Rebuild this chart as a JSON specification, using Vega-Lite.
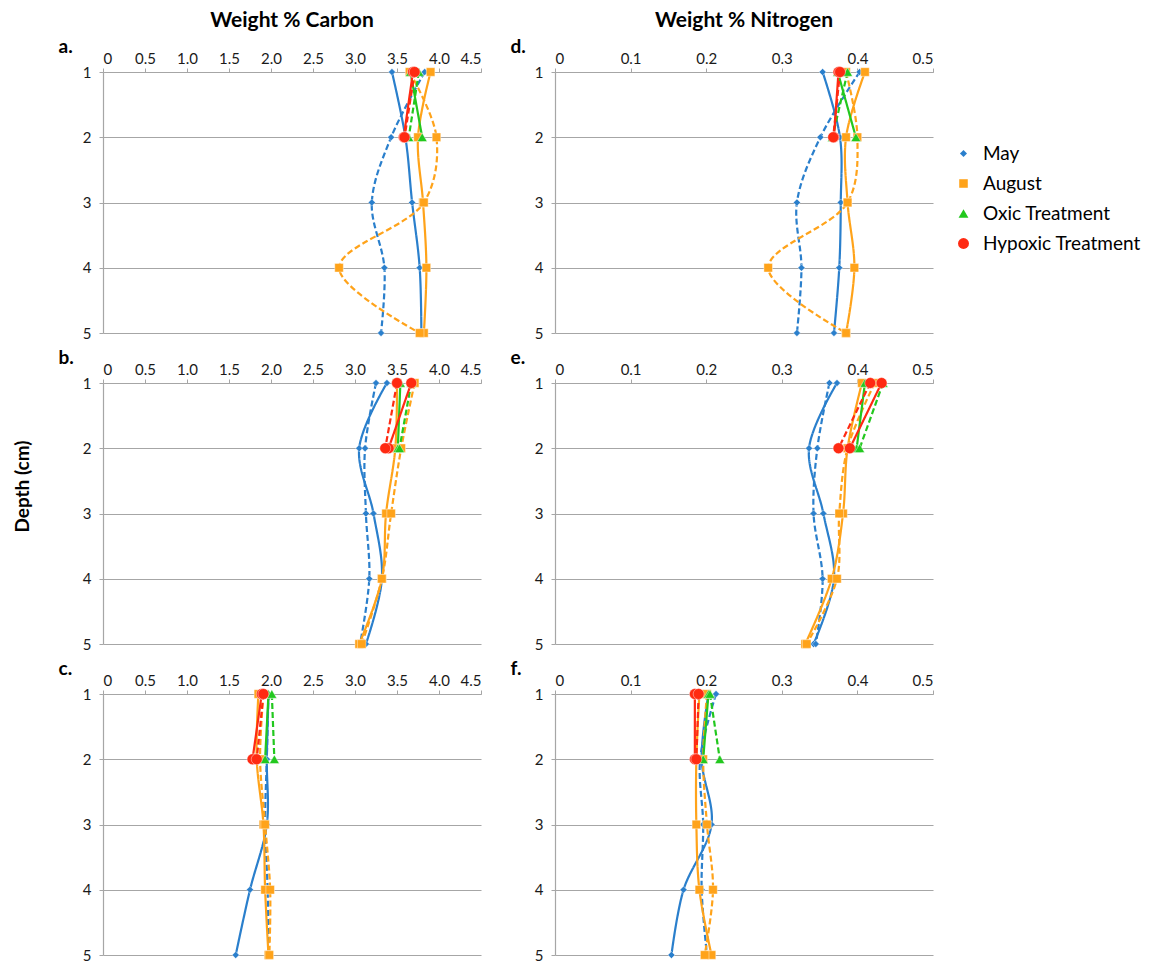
{
  "$schema": "https://vega.github.io/schema/vega-lite/v6.json",
  "padding": {"left": 14, "top": 10, "right": 10, "bottom": 2},
  "background": "white",
  "bounds": "flush",
  "columns": 2,
  "spacing": {"row": 50, "column": 74},
  "title": {"text": "Depth (cm)", "orient": "left", "anchor": "middle", "frame": "bounds", "font": "Lato", "fontSize": 19, "fontWeight": "bold", "color": "#000", "offset": 25},
  "data": {"values": [
    {"p":"a","s":"May","r":"1","d":1,"v":3.44},{"p":"a","s":"May","r":"1","d":2,"v":3.60},{"p":"a","s":"May","r":"1","d":3,"v":3.68},{"p":"a","s":"May","r":"1","d":4,"v":3.77},{"p":"a","s":"May","r":"1","d":5,"v":3.79},
    {"p":"a","s":"May","r":"2","d":1,"v":3.83},{"p":"a","s":"May","r":"2","d":2,"v":3.43},{"p":"a","s":"May","r":"2","d":3,"v":3.20},{"p":"a","s":"May","r":"2","d":4,"v":3.35},{"p":"a","s":"May","r":"2","d":5,"v":3.31},
    {"p":"a","s":"August","r":"1","d":1,"v":3.90},{"p":"a","s":"August","r":"1","d":2,"v":3.75},{"p":"a","s":"August","r":"1","d":3,"v":3.81},{"p":"a","s":"August","r":"1","d":4,"v":3.85},{"p":"a","s":"August","r":"1","d":5,"v":3.82},
    {"p":"a","s":"August","r":"2","d":1,"v":3.65},{"p":"a","s":"August","r":"2","d":2,"v":3.97},{"p":"a","s":"August","r":"2","d":3,"v":3.82},{"p":"a","s":"August","r":"2","d":4,"v":2.81},{"p":"a","s":"August","r":"2","d":5,"v":3.77},
    {"p":"a","s":"Oxic Treatment","r":"1","d":1,"v":3.66},{"p":"a","s":"Oxic Treatment","r":"1","d":2,"v":3.80},
    {"p":"a","s":"Oxic Treatment","r":"2","d":1,"v":3.76},{"p":"a","s":"Oxic Treatment","r":"2","d":2,"v":3.64},
    {"p":"a","s":"Hypoxic Treatment","r":"1","d":1,"v":3.69},{"p":"a","s":"Hypoxic Treatment","r":"1","d":2,"v":3.58},
    {"p":"a","s":"Hypoxic Treatment","r":"2","d":1,"v":3.71},{"p":"a","s":"Hypoxic Treatment","r":"2","d":2,"v":3.59},

    {"p":"d","s":"May","r":"1","d":1,"v":0.354},{"p":"d","s":"May","r":"1","d":2,"v":0.377},{"p":"d","s":"May","r":"1","d":3,"v":0.378},{"p":"d","s":"May","r":"1","d":4,"v":0.376},{"p":"d","s":"May","r":"1","d":5,"v":0.369},
    {"p":"d","s":"May","r":"2","d":1,"v":0.403},{"p":"d","s":"May","r":"2","d":2,"v":0.351},{"p":"d","s":"May","r":"2","d":3,"v":0.320},{"p":"d","s":"May","r":"2","d":4,"v":0.326},{"p":"d","s":"May","r":"2","d":5,"v":0.320},
    {"p":"d","s":"August","r":"1","d":1,"v":0.410},{"p":"d","s":"August","r":"1","d":2,"v":0.385},{"p":"d","s":"August","r":"1","d":3,"v":0.387},{"p":"d","s":"August","r":"1","d":4,"v":0.396},{"p":"d","s":"August","r":"1","d":5,"v":0.385},
    {"p":"d","s":"August","r":"2","d":1,"v":0.385},{"p":"d","s":"August","r":"2","d":2,"v":0.400},{"p":"d","s":"August","r":"2","d":3,"v":0.387},{"p":"d","s":"August","r":"2","d":4,"v":0.282},{"p":"d","s":"August","r":"2","d":5,"v":0.385},
    {"p":"d","s":"Oxic Treatment","r":"1","d":1,"v":0.374},{"p":"d","s":"Oxic Treatment","r":"1","d":2,"v":0.398},
    {"p":"d","s":"Oxic Treatment","r":"2","d":1,"v":0.387},{"p":"d","s":"Oxic Treatment","r":"2","d":2,"v":0.367},
    {"p":"d","s":"Hypoxic Treatment","r":"1","d":1,"v":0.375},{"p":"d","s":"Hypoxic Treatment","r":"1","d":2,"v":0.369},
    {"p":"d","s":"Hypoxic Treatment","r":"2","d":1,"v":0.377},{"p":"d","s":"Hypoxic Treatment","r":"2","d":2,"v":0.368},

    {"p":"b","s":"May","r":"1","d":1,"v":3.38},{"p":"b","s":"May","r":"1","d":2,"v":3.05},{"p":"b","s":"May","r":"1","d":3,"v":3.22},{"p":"b","s":"May","r":"1","d":4,"v":3.32},{"p":"b","s":"May","r":"1","d":5,"v":3.13},
    {"p":"b","s":"May","r":"2","d":1,"v":3.25},{"p":"b","s":"May","r":"2","d":2,"v":3.12},{"p":"b","s":"May","r":"2","d":3,"v":3.13},{"p":"b","s":"May","r":"2","d":4,"v":3.17},{"p":"b","s":"May","r":"2","d":5,"v":3.06},
    {"p":"b","s":"August","r":"1","d":1,"v":3.50},{"p":"b","s":"August","r":"1","d":2,"v":3.48},{"p":"b","s":"August","r":"1","d":3,"v":3.37},{"p":"b","s":"August","r":"1","d":4,"v":3.32},{"p":"b","s":"August","r":"1","d":5,"v":3.05},
    {"p":"b","s":"August","r":"2","d":1,"v":3.71},{"p":"b","s":"August","r":"2","d":2,"v":3.55},{"p":"b","s":"August","r":"2","d":3,"v":3.43},{"p":"b","s":"August","r":"2","d":4,"v":3.32},{"p":"b","s":"August","r":"2","d":5,"v":3.08},
    {"p":"b","s":"Oxic Treatment","r":"1","d":1,"v":3.54},{"p":"b","s":"Oxic Treatment","r":"1","d":2,"v":3.51},
    {"p":"b","s":"Oxic Treatment","r":"2","d":1,"v":3.67},{"p":"b","s":"Oxic Treatment","r":"2","d":2,"v":3.53},
    {"p":"b","s":"Hypoxic Treatment","r":"1","d":1,"v":3.67},{"p":"b","s":"Hypoxic Treatment","r":"1","d":2,"v":3.40},
    {"p":"b","s":"Hypoxic Treatment","r":"2","d":1,"v":3.50},{"p":"b","s":"Hypoxic Treatment","r":"2","d":2,"v":3.36},

    {"p":"e","s":"May","r":"1","d":1,"v":0.373},{"p":"e","s":"May","r":"1","d":2,"v":0.336},{"p":"e","s":"May","r":"1","d":3,"v":0.355},{"p":"e","s":"May","r":"1","d":4,"v":0.369},{"p":"e","s":"May","r":"1","d":5,"v":0.342},
    {"p":"e","s":"May","r":"2","d":1,"v":0.363},{"p":"e","s":"May","r":"2","d":2,"v":0.347},{"p":"e","s":"May","r":"2","d":3,"v":0.342},{"p":"e","s":"May","r":"2","d":4,"v":0.354},{"p":"e","s":"May","r":"2","d":5,"v":0.345},
    {"p":"e","s":"August","r":"1","d":1,"v":0.406},{"p":"e","s":"August","r":"1","d":2,"v":0.387},{"p":"e","s":"August","r":"1","d":3,"v":0.381},{"p":"e","s":"August","r":"1","d":4,"v":0.366},{"p":"e","s":"August","r":"1","d":5,"v":0.331},
    {"p":"e","s":"August","r":"2","d":1,"v":0.423},{"p":"e","s":"August","r":"2","d":2,"v":0.387},{"p":"e","s":"August","r":"2","d":3,"v":0.376},{"p":"e","s":"August","r":"2","d":4,"v":0.373},{"p":"e","s":"August","r":"2","d":5,"v":0.333},
    {"p":"e","s":"Oxic Treatment","r":"1","d":1,"v":0.410},{"p":"e","s":"Oxic Treatment","r":"1","d":2,"v":0.399},
    {"p":"e","s":"Oxic Treatment","r":"2","d":1,"v":0.434},{"p":"e","s":"Oxic Treatment","r":"2","d":2,"v":0.403},
    {"p":"e","s":"Hypoxic Treatment","r":"1","d":1,"v":0.432},{"p":"e","s":"Hypoxic Treatment","r":"1","d":2,"v":0.390},
    {"p":"e","s":"Hypoxic Treatment","r":"2","d":1,"v":0.417},{"p":"e","s":"Hypoxic Treatment","r":"2","d":2,"v":0.375},

    {"p":"c","s":"May","r":"1","d":1,"v":1.97},{"p":"c","s":"May","r":"1","d":2,"v":1.95},{"p":"c","s":"May","r":"1","d":3,"v":1.95},{"p":"c","s":"May","r":"1","d":4,"v":1.75},{"p":"c","s":"May","r":"1","d":5,"v":1.58},
    {"p":"c","s":"May","r":"2","d":1,"v":1.97},{"p":"c","s":"May","r":"2","d":2,"v":1.95},{"p":"c","s":"May","r":"2","d":3,"v":1.93},{"p":"c","s":"May","r":"2","d":4,"v":1.96},{"p":"c","s":"May","r":"2","d":5,"v":1.97},
    {"p":"c","s":"August","r":"1","d":1,"v":1.85},{"p":"c","s":"August","r":"1","d":2,"v":1.83},{"p":"c","s":"August","r":"1","d":3,"v":1.91},{"p":"c","s":"August","r":"1","d":4,"v":1.93},{"p":"c","s":"August","r":"1","d":5,"v":1.97},
    {"p":"c","s":"August","r":"2","d":1,"v":1.91},{"p":"c","s":"August","r":"2","d":2,"v":1.87},{"p":"c","s":"August","r":"2","d":3,"v":1.93},{"p":"c","s":"August","r":"2","d":4,"v":1.99},{"p":"c","s":"August","r":"2","d":5,"v":1.98},
    {"p":"c","s":"Oxic Treatment","r":"1","d":1,"v":1.97},{"p":"c","s":"Oxic Treatment","r":"1","d":2,"v":1.93},
    {"p":"c","s":"Oxic Treatment","r":"2","d":1,"v":2.01},{"p":"c","s":"Oxic Treatment","r":"2","d":2,"v":2.04},
    {"p":"c","s":"Hypoxic Treatment","r":"1","d":1,"v":1.89},{"p":"c","s":"Hypoxic Treatment","r":"1","d":2,"v":1.78},
    {"p":"c","s":"Hypoxic Treatment","r":"2","d":1,"v":1.91},{"p":"c","s":"Hypoxic Treatment","r":"2","d":2,"v":1.83},

    {"p":"f","s":"May","r":"1","d":1,"v":0.203},{"p":"f","s":"May","r":"1","d":2,"v":0.194},{"p":"f","s":"May","r":"1","d":3,"v":0.207},{"p":"f","s":"May","r":"1","d":4,"v":0.170},{"p":"f","s":"May","r":"1","d":5,"v":0.154},
    {"p":"f","s":"May","r":"2","d":1,"v":0.213},{"p":"f","s":"May","r":"2","d":2,"v":0.192},{"p":"f","s":"May","r":"2","d":3,"v":0.196},{"p":"f","s":"May","r":"2","d":4,"v":0.194},{"p":"f","s":"May","r":"2","d":5,"v":0.201},
    {"p":"f","s":"August","r":"1","d":1,"v":0.191},{"p":"f","s":"August","r":"1","d":2,"v":0.187},{"p":"f","s":"August","r":"1","d":3,"v":0.187},{"p":"f","s":"August","r":"1","d":4,"v":0.191},{"p":"f","s":"August","r":"1","d":5,"v":0.207},
    {"p":"f","s":"August","r":"2","d":1,"v":0.201},{"p":"f","s":"August","r":"2","d":2,"v":0.196},{"p":"f","s":"August","r":"2","d":3,"v":0.201},{"p":"f","s":"August","r":"2","d":4,"v":0.209},{"p":"f","s":"August","r":"2","d":5,"v":0.198},
    {"p":"f","s":"Oxic Treatment","r":"1","d":1,"v":0.203},{"p":"f","s":"Oxic Treatment","r":"1","d":2,"v":0.196},
    {"p":"f","s":"Oxic Treatment","r":"2","d":1,"v":0.205},{"p":"f","s":"Oxic Treatment","r":"2","d":2,"v":0.218},
    {"p":"f","s":"Hypoxic Treatment","r":"1","d":1,"v":0.185},{"p":"f","s":"Hypoxic Treatment","r":"1","d":2,"v":0.185},
    {"p":"f","s":"Hypoxic Treatment","r":"2","d":1,"v":0.190},{"p":"f","s":"Hypoxic Treatment","r":"2","d":2,"v":0.187}
  ]},
  "concat": [
      {"width": 378, "height": 261,
       "title": {"text": "Weight % Carbon"},
       "transform": [{"filter": "datum.p === 'a'"}],
       "encoding": {
         "x": {"field": "v", "type": "quantitative", "scale": {"domain": [0, 4.5], "nice": false, "zero": false}, "axis": {"values": [0,0.5,1,1.5,2,2.5,3,3.5,4,4.5]}},
         "y": {"field": "d", "type": "quantitative", "scale": {"domain": [1, 5], "reverse": true, "nice": false, "zero": false}, "axis": {"title": "a.", "values": [1,2,3,4,5]}},
         "color": {"field": "s", "type": "nominal", "title": null, "legend": {"orient": "none", "legendX": 851, "legendY": 72, "encode": {"symbols": {"update": {"size": {"value": 190}}}}}, "scale": {"domain": ["May","August","Oxic Treatment","Hypoxic Treatment"], "range": ["#2a7fcc","#ffa31a","#22c81e","#ff2a12"]}}
       },
       "layer": [
         {"mark": {"type": "line", "interpolate": "catmull-rom", "strokeWidth": 2.2},
          "encoding": {"detail": {"field": "r"}, "order": {"field": "d"}, "strokeDash": {"field": "r", "type": "nominal", "scale": {"domain": ["1","2"], "range": [[1,0],[6,3]]}, "legend": null}}},
         {"mark": {"type": "point", "filled": true, "opacity": 1, "stroke": "#ffffff", "strokeWidth": 0.6, "strokeOpacity": 0.7},
          "encoding": {"shape": {"field": "s", "type": "nominal", "title": null, "legend": {"orient": "none", "legendX": 851, "legendY": 72, "encode": {"symbols": {"update": {"size": {"value": 190}}}}}, "scale": {"domain": ["May","August","Oxic Treatment","Hypoxic Treatment"], "range": ["diamond","square","triangle-up","circle"]}},
                       "size": {"field": "s", "type": "nominal", "legend": null, "scale": {"domain": ["May","August","Oxic Treatment","Hypoxic Treatment"], "range": [50,120,60,85]}}}}
       ]},
      {"width": 378, "height": 261,
       "title": {"text": "Weight % Nitrogen"},
       "transform": [{"filter": "datum.p === 'd'"}],
       "encoding": {
         "x": {"field": "v", "type": "quantitative", "scale": {"domain": [0, 0.5], "nice": false, "zero": false}, "axis": {"values": [0,0.1,0.2,0.3,0.4,0.5]}},
         "y": {"field": "d", "type": "quantitative", "scale": {"domain": [1, 5], "reverse": true, "nice": false, "zero": false}, "axis": {"title": "d.", "values": [1,2,3,4,5]}},
         "color": {"field": "s", "type": "nominal", "title": null, "legend": {"orient": "none", "legendX": 851, "legendY": 72, "encode": {"symbols": {"update": {"size": {"value": 190}}}}}, "scale": {"domain": ["May","August","Oxic Treatment","Hypoxic Treatment"], "range": ["#2a7fcc","#ffa31a","#22c81e","#ff2a12"]}}
       },
       "layer": [
         {"mark": {"type": "line", "interpolate": "catmull-rom", "strokeWidth": 2.2},
          "encoding": {"detail": {"field": "r"}, "order": {"field": "d"}, "strokeDash": {"field": "r", "type": "nominal", "scale": {"domain": ["1","2"], "range": [[1,0],[6,3]]}, "legend": null}}},
         {"mark": {"type": "point", "filled": true, "opacity": 1, "stroke": "#ffffff", "strokeWidth": 0.6, "strokeOpacity": 0.7},
          "encoding": {"shape": {"field": "s", "type": "nominal", "title": null, "legend": {"orient": "none", "legendX": 851, "legendY": 72, "encode": {"symbols": {"update": {"size": {"value": 190}}}}}, "scale": {"domain": ["May","August","Oxic Treatment","Hypoxic Treatment"], "range": ["diamond","square","triangle-up","circle"]}},
                       "size": {"field": "s", "type": "nominal", "legend": null, "scale": {"domain": ["May","August","Oxic Treatment","Hypoxic Treatment"], "range": [50,120,60,85]}}}}
       ]},
      {"width": 378, "height": 261,
       "transform": [{"filter": "datum.p === 'b'"}],
       "encoding": {
         "x": {"field": "v", "type": "quantitative", "scale": {"domain": [0, 4.5], "nice": false, "zero": false}, "axis": {"values": [0,0.5,1,1.5,2,2.5,3,3.5,4,4.5]}},
         "y": {"field": "d", "type": "quantitative", "scale": {"domain": [1, 5], "reverse": true, "nice": false, "zero": false}, "axis": {"title": "b.", "values": [1,2,3,4,5]}},
         "color": {"field": "s", "type": "nominal", "title": null, "legend": {"orient": "none", "legendX": 851, "legendY": 72, "encode": {"symbols": {"update": {"size": {"value": 190}}}}}, "scale": {"domain": ["May","August","Oxic Treatment","Hypoxic Treatment"], "range": ["#2a7fcc","#ffa31a","#22c81e","#ff2a12"]}}
       },
       "layer": [
         {"mark": {"type": "line", "interpolate": "catmull-rom", "strokeWidth": 2.2},
          "encoding": {"detail": {"field": "r"}, "order": {"field": "d"}, "strokeDash": {"field": "r", "type": "nominal", "scale": {"domain": ["1","2"], "range": [[1,0],[6,3]]}, "legend": null}}},
         {"mark": {"type": "point", "filled": true, "opacity": 1, "stroke": "#ffffff", "strokeWidth": 0.6, "strokeOpacity": 0.7},
          "encoding": {"shape": {"field": "s", "type": "nominal", "title": null, "legend": {"orient": "none", "legendX": 851, "legendY": 72, "encode": {"symbols": {"update": {"size": {"value": 190}}}}}, "scale": {"domain": ["May","August","Oxic Treatment","Hypoxic Treatment"], "range": ["diamond","square","triangle-up","circle"]}},
                       "size": {"field": "s", "type": "nominal", "legend": null, "scale": {"domain": ["May","August","Oxic Treatment","Hypoxic Treatment"], "range": [50,120,60,85]}}}}
       ]},
      {"width": 378, "height": 261,
       "transform": [{"filter": "datum.p === 'e'"}],
       "encoding": {
         "x": {"field": "v", "type": "quantitative", "scale": {"domain": [0, 0.5], "nice": false, "zero": false}, "axis": {"values": [0,0.1,0.2,0.3,0.4,0.5]}},
         "y": {"field": "d", "type": "quantitative", "scale": {"domain": [1, 5], "reverse": true, "nice": false, "zero": false}, "axis": {"title": "e.", "values": [1,2,3,4,5]}},
         "color": {"field": "s", "type": "nominal", "title": null, "legend": {"orient": "none", "legendX": 851, "legendY": 72, "encode": {"symbols": {"update": {"size": {"value": 190}}}}}, "scale": {"domain": ["May","August","Oxic Treatment","Hypoxic Treatment"], "range": ["#2a7fcc","#ffa31a","#22c81e","#ff2a12"]}}
       },
       "layer": [
         {"mark": {"type": "line", "interpolate": "catmull-rom", "strokeWidth": 2.2},
          "encoding": {"detail": {"field": "r"}, "order": {"field": "d"}, "strokeDash": {"field": "r", "type": "nominal", "scale": {"domain": ["1","2"], "range": [[1,0],[6,3]]}, "legend": null}}},
         {"mark": {"type": "point", "filled": true, "opacity": 1, "stroke": "#ffffff", "strokeWidth": 0.6, "strokeOpacity": 0.7},
          "encoding": {"shape": {"field": "s", "type": "nominal", "title": null, "legend": {"orient": "none", "legendX": 851, "legendY": 72, "encode": {"symbols": {"update": {"size": {"value": 190}}}}}, "scale": {"domain": ["May","August","Oxic Treatment","Hypoxic Treatment"], "range": ["diamond","square","triangle-up","circle"]}},
                       "size": {"field": "s", "type": "nominal", "legend": null, "scale": {"domain": ["May","August","Oxic Treatment","Hypoxic Treatment"], "range": [50,120,60,85]}}}}
       ]},
      {"width": 378, "height": 261,
       "transform": [{"filter": "datum.p === 'c'"}],
       "encoding": {
         "x": {"field": "v", "type": "quantitative", "scale": {"domain": [0, 4.5], "nice": false, "zero": false}, "axis": {"values": [0,0.5,1,1.5,2,2.5,3,3.5,4,4.5]}},
         "y": {"field": "d", "type": "quantitative", "scale": {"domain": [1, 5], "reverse": true, "nice": false, "zero": false}, "axis": {"title": "c.", "values": [1,2,3,4,5]}},
         "color": {"field": "s", "type": "nominal", "title": null, "legend": {"orient": "none", "legendX": 851, "legendY": 72, "encode": {"symbols": {"update": {"size": {"value": 190}}}}}, "scale": {"domain": ["May","August","Oxic Treatment","Hypoxic Treatment"], "range": ["#2a7fcc","#ffa31a","#22c81e","#ff2a12"]}}
       },
       "layer": [
         {"mark": {"type": "line", "interpolate": "catmull-rom", "strokeWidth": 2.2},
          "encoding": {"detail": {"field": "r"}, "order": {"field": "d"}, "strokeDash": {"field": "r", "type": "nominal", "scale": {"domain": ["1","2"], "range": [[1,0],[6,3]]}, "legend": null}}},
         {"mark": {"type": "point", "filled": true, "opacity": 1, "stroke": "#ffffff", "strokeWidth": 0.6, "strokeOpacity": 0.7},
          "encoding": {"shape": {"field": "s", "type": "nominal", "title": null, "legend": {"orient": "none", "legendX": 851, "legendY": 72, "encode": {"symbols": {"update": {"size": {"value": 190}}}}}, "scale": {"domain": ["May","August","Oxic Treatment","Hypoxic Treatment"], "range": ["diamond","square","triangle-up","circle"]}},
                       "size": {"field": "s", "type": "nominal", "legend": null, "scale": {"domain": ["May","August","Oxic Treatment","Hypoxic Treatment"], "range": [50,120,60,85]}}}}
       ]},
      {"width": 378, "height": 261,
       "transform": [{"filter": "datum.p === 'f'"}],
       "encoding": {
         "x": {"field": "v", "type": "quantitative", "scale": {"domain": [0, 0.5], "nice": false, "zero": false}, "axis": {"values": [0,0.1,0.2,0.3,0.4,0.5]}},
         "y": {"field": "d", "type": "quantitative", "scale": {"domain": [1, 5], "reverse": true, "nice": false, "zero": false}, "axis": {"title": "f.", "values": [1,2,3,4,5]}},
         "color": {"field": "s", "type": "nominal", "title": null, "legend": {"orient": "none", "legendX": 851, "legendY": 72, "encode": {"symbols": {"update": {"size": {"value": 190}}}}}, "scale": {"domain": ["May","August","Oxic Treatment","Hypoxic Treatment"], "range": ["#2a7fcc","#ffa31a","#22c81e","#ff2a12"]}}
       },
       "layer": [
         {"mark": {"type": "line", "interpolate": "catmull-rom", "strokeWidth": 2.2},
          "encoding": {"detail": {"field": "r"}, "order": {"field": "d"}, "strokeDash": {"field": "r", "type": "nominal", "scale": {"domain": ["1","2"], "range": [[1,0],[6,3]]}, "legend": null}}},
         {"mark": {"type": "point", "filled": true, "opacity": 1, "stroke": "#ffffff", "strokeWidth": 0.6, "strokeOpacity": 0.7},
          "encoding": {"shape": {"field": "s", "type": "nominal", "title": null, "legend": {"orient": "none", "legendX": 851, "legendY": 72, "encode": {"symbols": {"update": {"size": {"value": 190}}}}}, "scale": {"domain": ["May","August","Oxic Treatment","Hypoxic Treatment"], "range": ["diamond","square","triangle-up","circle"]}},
                       "size": {"field": "s", "type": "nominal", "legend": null, "scale": {"domain": ["May","August","Oxic Treatment","Hypoxic Treatment"], "range": [50,120,60,85]}}}}
       ]}
  ],
  "resolve": {"scale": {"color": "shared", "shape": "shared", "size": "shared", "strokeDash": "shared"}, "legend": {"color": "shared", "shape": "shared"}},
  "config": {
    "view": {"stroke": null},
    "font": "Lato",
    "title": {"font": "Lato", "fontSize": 21, "fontWeight": "bold", "color": "#000", "anchor": "middle", "frame": "group", "offset": 6},
    "axis": {"labelFont": "Lato", "labelFontSize": 15, "labelColor": "#1a1a1a", "domainColor": "#a6a6a6", "tickColor": "#a6a6a6", "gridColor": "#a6a6a6", "tickSize": 4, "domainWidth": 1.2, "gridWidth": 1.2},
    "axisX": {"orient": "top", "grid": false, "title": null, "labelExpr": "datum.value === 0 ? '0' : format(datum.value, '.1f')", "labelPadding": 2, "tickSize": 4},
    "axisY": {"grid": true, "format": "d", "labelPadding": 8, "tickSize": 4, "titleAngle": 0, "titleFont": "Lato", "titleFontSize": 19, "titleFontWeight": "bold", "titleColor": "#000", "titleAlign": "left", "titleBaseline": "alphabetic", "titleX": -45, "titleY": -20},
    "legend": {"labelFont": "Lato", "labelFontSize": 19, "labelColor": "#000", "symbolSize": 190, "rowPadding": 10, "symbolStrokeWidth": 0, "labelOffset": 10}
  }
}
